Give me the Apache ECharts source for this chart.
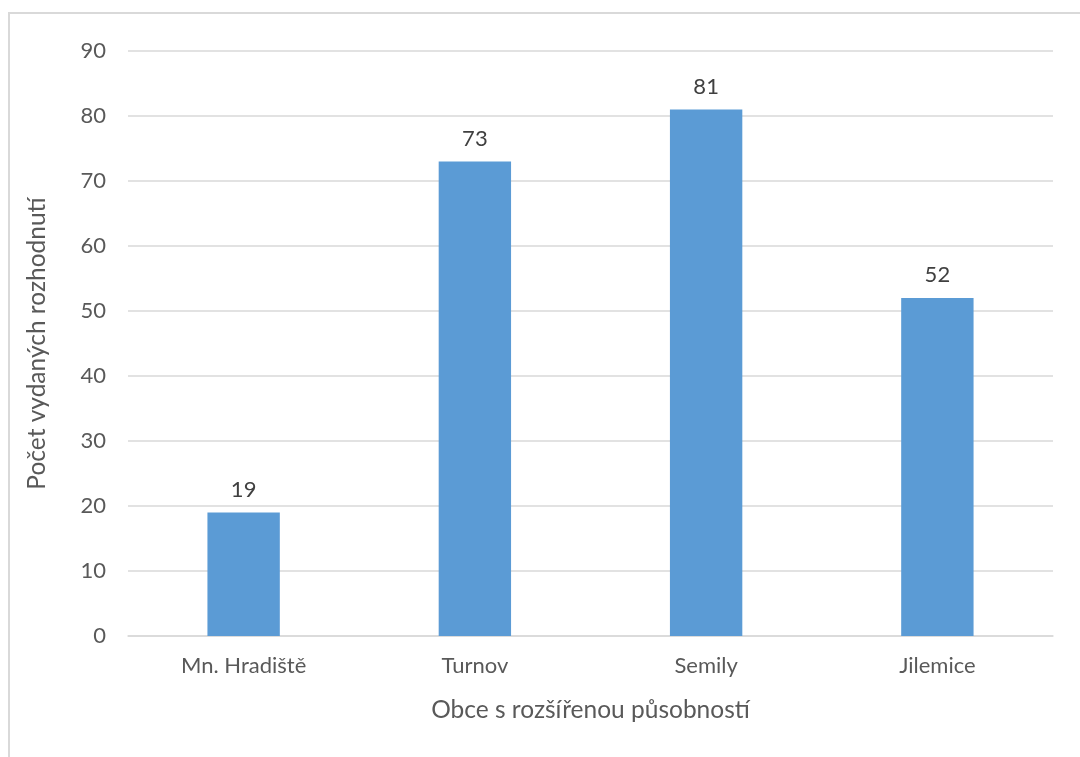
<!DOCTYPE html>
<html><head><meta charset="utf-8">
<script src="https://cdn.jsdelivr.net/npm/echarts@6/dist/echarts.min.js"></script>
<style>html,body{margin:0;padding:0;background:#fff}#c{width:1080px;height:757px}</style>
</head><body><div id="c"></div>
<script>
const categories = ["Mn. Hradiště", "Turnov", "Semily", "Jilemice"];
const values = [19, 73, 81, 52];
const yTicks = [0, 10, 20, 30, 40, 50, 60, 70, 80, 90];
const xTitle = "Obce s rozšířenou působností";
const yTitle = "Počet vydaných rozhodnutí";

const font = "Lato, 'Open Sans', sans-serif";
const txt = "#595959";
const chart = echarts.init(document.getElementById('c'), null, {renderer: 'canvas'});
chart.setOption({
  animation: false,
  backgroundColor: '#fff',
  graphic: [{
    type: 'polyline', silent: true,
    shape: {points: [[9, 757], [9, 13], [1080, 13]]},
    style: {stroke: '#d9d9d9', lineWidth: 2, fill: null}
  }],
  grid: {left: 128, right: 27, top: 51, bottom: 121, containLabel: false},
  xAxis: {
    type: 'category', data: categories,
    axisLine: {lineStyle: {color: '#d9d9d9', width: 1.5}},
    axisTick: {show: false},
    axisLabel: {color: txt, fontFamily: font, fontSize: 22, margin: 19},
    name: xTitle, nameLocation: 'middle', nameGap: 62,
    nameTextStyle: {color: txt, fontFamily: font, fontSize: 24.5}
  },
  yAxis: {
    type: 'value', min: yTicks[0], max: yTicks[yTicks.length - 1], interval: 10,
    axisLine: {show: false}, axisTick: {show: false},
    splitLine: {lineStyle: {color: '#d9d9d9', width: 1.5}},
    axisLabel: {color: txt, fontFamily: font, fontSize: 22, margin: 22},
    name: yTitle, nameLocation: 'middle', nameGap: 78, nameRotate: 90,
    nameTextStyle: {color: txt, fontFamily: font, fontSize: 24.5}
  },
  series: [{
    type: 'bar', data: values, barWidth: '31.3%',
    itemStyle: {color: '#5b9bd5'},
    label: {show: true, position: 'top', distance: 12, color: '#404040', fontFamily: font, fontSize: 22}
  }]
});
</script></body></html>
